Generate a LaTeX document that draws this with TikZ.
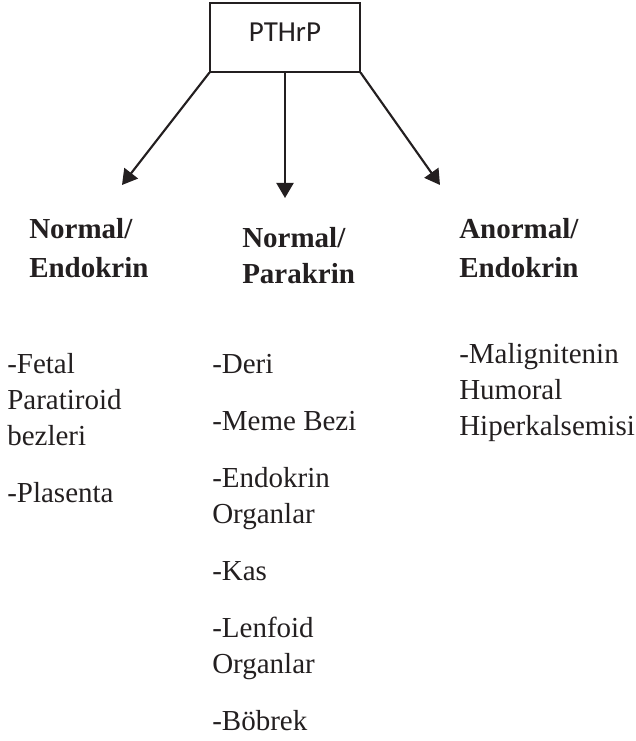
\documentclass[tikz,border=0pt]{standalone}
\usepackage{fontspec}
\setmainfont{Liberation Serif}
\newfontfamily\boxfont{Carlito}
\usetikzlibrary{arrows.meta}
\definecolor{ink}{HTML}{231F20}

\begin{document}
\begin{tikzpicture}[x=0.75pt,y=-0.75pt,
  every node/.style={text=ink, inner sep=0pt},
  % nodes sit on the baseline of their last line
  head/.style={anchor=base west, align=left, font=\fontsize{21.75}{27}\selectfont\bfseries},
  list/.style={anchor=base west, align=left, font=\fontsize{21.75}{27}\selectfont},
  link/.style={draw=ink, line width=1.6pt, -{Triangle[length=11.25pt,width=12.75pt]}}]
  \useasboundingbox (0,0) rectangle (635,741);
  % PTHrP
  \node[draw=ink, line width=0.8pt, minimum width=112.5pt, text height=29.25pt, text depth=22.5pt,
        font=\boxfont\fontsize{21.75}{27}\selectfont] (pthrp) at (285,37.5) {PTHrP};
  % arrows
  \coordinate (tipL) at (122,185);
  \coordinate (tipM) at (285,198);
  \coordinate (tipR) at (440,185);
  \draw[link] (pthrp.south west) -- (tipL);
  \draw[link] (pthrp.south) -- (tipM);
  \draw[link] (pthrp.south east) -- (tipR);
  % headings
  \node[head] (normE) at (29,277) {Normal/\\[2.25pt]Endokrin};
  \node[head] (normP) at (242,283) {Normal/\\Parakrin};
  \node[head] (anormE) at (459,277) {Anormal/\\[2.25pt]Endokrin};
  % lists
  \node[list] (listE) at (7,502) {-Fetal\\Paratiroid\\bezleri\\[15.75pt]-Plasenta};
  \node[list] (listP) at (212,730) {-Deri\\[15.75pt]-Meme Bezi\\[15.75pt]-Endokrin\\Organlar\\[15.75pt]-Kas\\[15.75pt]-Lenfoid\\Organlar\\[15.75pt]-Böbrek};
  \node[list] (listA) at (459,435) {-Malignitenin\\Humoral\\Hiperkalsemisi};
\end{tikzpicture}
\end{document}
